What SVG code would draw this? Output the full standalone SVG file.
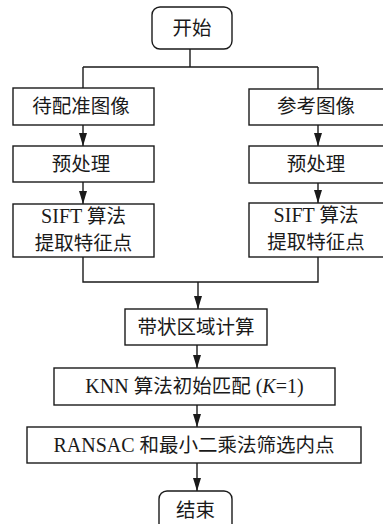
<svg xmlns="http://www.w3.org/2000/svg" width="383" height="524" viewBox="0 0 383 524">
<style>
.box{fill:#fff;stroke:#1a1a1a;stroke-width:1.4}
.ln{fill:none;stroke:#1a1a1a;stroke-width:1.4}
text{font-family:"Liberation Serif","Noto Sans CJK SC",serif;font-size:20px;fill:#1a1a1a;text-anchor:middle}
.cj{font-family:"Noto Sans CJK SC","Liberation Serif",sans-serif;font-size:19.5px}
</style>
<defs>
<marker id="ar" markerWidth="13" markerHeight="8" refX="13" refY="4" orient="auto" markerUnits="userSpaceOnUse" viewBox="0 0 13 8">
<path d="M0,0 L13,4 L0,8 Z" fill="#1a1a1a"/>
</marker>
</defs>
<g id="connectors">
<path class="ln" d="M190,49 V67 M83,67 H318 M83,67 V88 M318,67 V89"/>
<path class="ln" d="M83,125 V146" marker-end="url(#ar)"/>
<path class="ln" d="M318,125 V146" marker-end="url(#ar)"/>
<path class="ln" d="M83,182 V204" marker-end="url(#ar)"/>
<path class="ln" d="M318,183 V203" marker-end="url(#ar)"/>
<path class="ln" d="M83,257 V282 H318 V257"/>
<path class="ln" d="M198,282 V309" marker-end="url(#ar)"/>
<path class="ln" d="M197,345 V368" marker-end="url(#ar)"/>
<path class="ln" d="M197,405 V427" marker-end="url(#ar)"/>
<path class="ln" d="M197,463 V491" marker-end="url(#ar)"/>
</g>
<g id="start">
<rect class="box" x="152" y="7" width="80" height="42" rx="8"/>
<text class="cj" x="192" y="35">开始</text>
</g>
<g id="img1">
<rect class="box" x="13" y="88" width="141" height="37"/>
<text class="cj" x="81" y="113">待配准图像</text>
</g>
<g id="img2">
<rect class="box" x="249" y="89" width="141" height="36"/>
<text class="cj" x="316" y="113">参考图像</text>
</g>
<g id="pre1">
<rect class="box" x="13" y="146" width="141" height="36"/>
<text class="cj" x="81" y="171">预处理</text>
</g>
<g id="pre2">
<rect class="box" x="249" y="146" width="141" height="37"/>
<text class="cj" x="316" y="171">预处理</text>
</g>
<g id="sift1">
<rect class="box" x="13" y="204" width="141" height="53"/>
<text x="83.5" y="223">SIFT <tspan class="cj">算法</tspan></text>
<text class="cj" x="83.5" y="250">提取特征点</text>
</g>
<g id="sift2">
<rect class="box" x="249" y="203" width="141" height="54"/>
<text x="316" y="222">SIFT <tspan class="cj">算法</tspan></text>
<text class="cj" x="316" y="249">提取特征点</text>
</g>
<g id="band">
<rect class="box" x="125" y="309" width="142" height="36"/>
<text class="cj" x="196" y="334">带状区域计算</text>
</g>
<g id="knn">
<rect class="box" x="54" y="368" width="281" height="37"/>
<text x="194.5" y="393">KNN <tspan class="cj">算法初始匹配</tspan> (<tspan font-style="italic">K</tspan>=1)</text>
</g>
<g id="ransac">
<rect class="box" x="27" y="427" width="334" height="36"/>
<text x="194" y="452">RANSAC <tspan class="cj">和最小二乘法筛选内点</tspan></text>
</g>
<g id="end">
<rect class="box" x="159" y="491" width="73" height="42" rx="8"/>
<text class="cj" x="195.5" y="517">结束</text>
</g>
</svg>
